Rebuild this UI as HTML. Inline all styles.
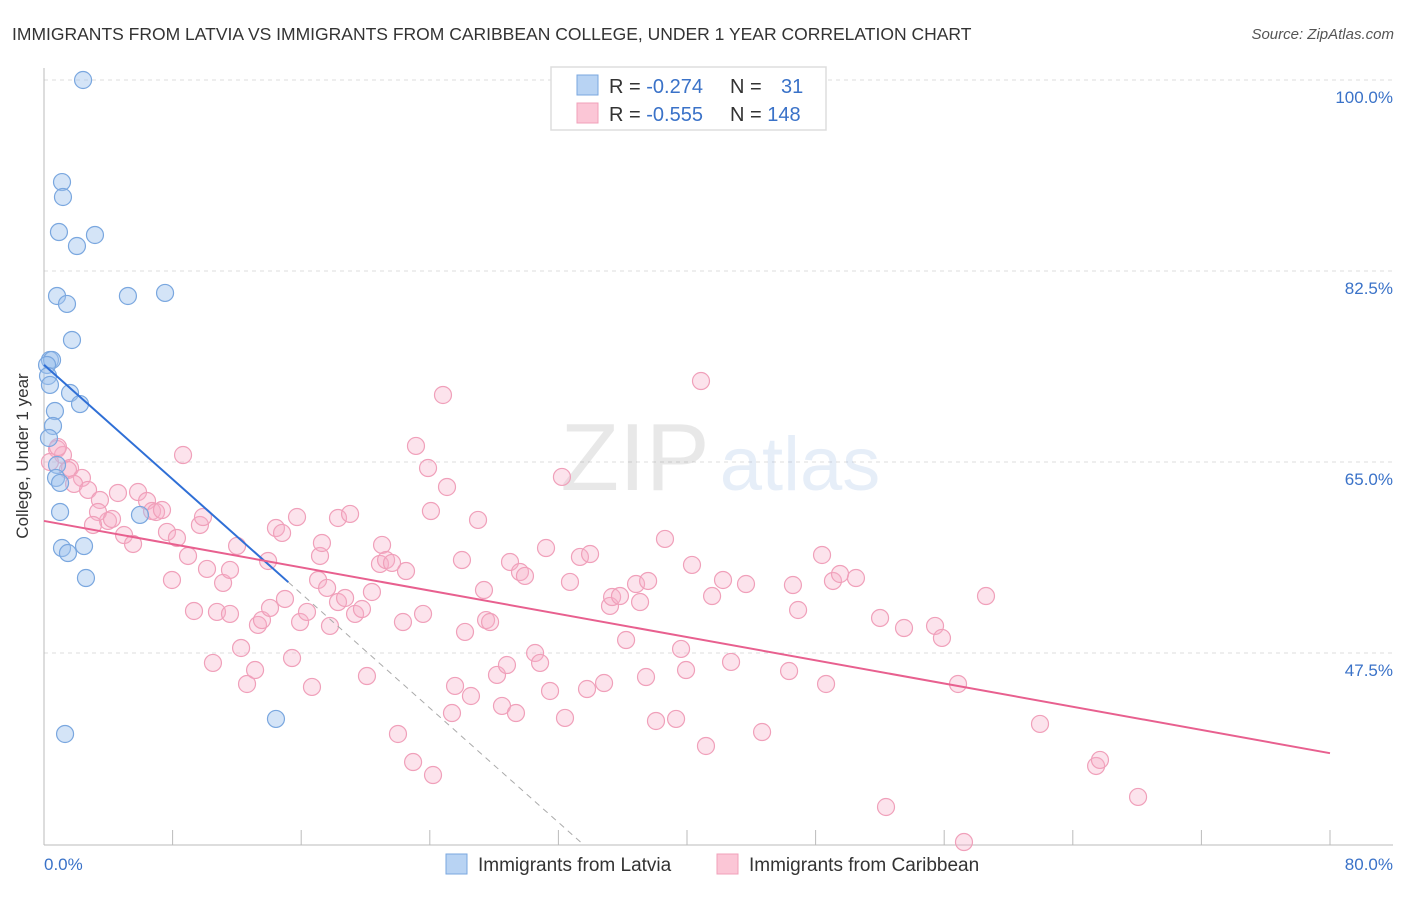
<!DOCTYPE html>
<html><head><meta charset="utf-8"><style>
body{margin:0;background:#fff;font-family:"Liberation Sans",sans-serif;}
svg text{font-family:"Liberation Sans",sans-serif;}
</style></head><body>
<svg id="chart" width="1406" height="892" xmlns="http://www.w3.org/2000/svg">
<text x="12" y="40" font-size="17.5" fill="#333">IMMIGRANTS FROM LATVIA VS IMMIGRANTS FROM CARIBBEAN COLLEGE, UNDER 1 YEAR CORRELATION CHART</text>
<text x="1394" y="39" font-size="15" fill="#555" font-style="italic" text-anchor="end">Source: ZipAtlas.com</text>
<g id="grid"></g>
<g opacity="0.13">
<text x="635" y="490" font-size="96" font-family="Liberation Serif" fill="#555" text-anchor="middle">ZIP</text>
<text x="800" y="490" font-size="76" fill="#4a7fd0" text-anchor="middle">atlas</text>
</g>
<g id="axes"></g>
<g id="pts"></g>
<g id="lines"></g>
<text x="28" y="456" font-size="17" fill="#333" text-anchor="middle" transform="rotate(-90 28 456)">College, Under 1 year</text>
<g>
<rect x="551" y="67" width="275" height="63" fill="#fff" stroke="#ddd" stroke-width="1.5"/>
<rect x="577" y="75" width="21" height="20" fill="#b8d3f3" stroke="#7aa7df"/>
<rect x="577" y="103" width="21" height="20" fill="#fbc6d6" stroke="#f0a0ba"/>
<text x="609" y="93" font-size="20" fill="#333">R = <tspan fill="#3a72c8">-0.274</tspan></text>
<text x="730" y="93" font-size="20" fill="#333">N = <tspan fill="#3a72c8" x="781">31</tspan></text>
<text x="609" y="121" font-size="20" fill="#333">R = <tspan fill="#3a72c8">-0.555</tspan></text>
<text x="730" y="121" font-size="20" fill="#333">N = <tspan fill="#3a72c8">148</tspan></text>
</g>
<g>
<rect x="446" y="854" width="21" height="20" fill="#b8d3f3" stroke="#7aa7df"/>
<text x="478" y="871" font-size="19" fill="#333">Immigrants from Latvia</text>
<rect x="717" y="854" width="21" height="20" fill="#fbc6d6" stroke="#f0a0ba"/>
<text x="749" y="871" font-size="19" fill="#333">Immigrants from Caribbean</text>
</g>
</svg>
<script>
const blueX=[2.43,1.12,1.18,0.93,3.17,2.05,0.81,1.43,5.22,7.53,1.74,0.37,0.50,0.19,0.25,0.37,1.62,2.24,0.68,0.56,0.31,0.81,0.75,1.00,1.00,1.12,1.49,2.49,2.61,14.43,1.31,5.97];
const blueY=[100,90.65,89.28,86.07,85.80,84.79,80.21,79.48,80.21,80.49,76.18,74.35,74.35,73.89,72.88,72.06,71.32,70.31,69.67,68.30,67.20,64.73,63.54,63.08,60.42,57.12,56.66,57.30,54.37,41.46,40.08,60.15];
const pinkX=[0.81,1.18,1.62,0.37,0.87,1.49,2.36,1.87,2.74,3.48,3.98,4.60,3.36,3.05,4.23,4.98,5.54,5.85,6.41,6.72,6.97,7.34,7.96,8.65,7.65,8.27,8.96,9.70,9.89,9.33,10.14,10.51,10.76,11.14,11.57,11.57,12.01,12.26,12.63,13.13,13.31,13.56,13.94,14.06,14.43,14.81,14.99,15.43,15.74,15.93,16.36,16.67,17.05,17.17,17.29,17.61,17.79,18.29,18.29,18.73,19.04,19.35,19.78,20.09,20.40,20.90,21.03,21.28,21.65,22.02,22.33,22.52,22.96,23.14,23.58,23.89,24.07,24.20,24.82,25.07,25.38,25.57,26.00,26.19,26.56,27.00,27.37,27.50,27.75,28.18,28.49,28.80,28.99,29.36,29.61,29.92,30.55,30.86,31.23,31.48,32.22,32.41,32.72,33.34,33.78,33.97,34.84,35.21,35.34,35.83,36.21,36.83,37.08,37.45,37.58,38.07,38.63,39.32,39.63,39.94,40.31,40.87,41.18,41.56,42.24,42.74,43.67,44.67,46.35,46.59,46.91,48.40,48.65,49.08,49.52,50.51,52.01,52.38,53.50,55.43,55.86,56.86,57.23,58.60,61.96,65.45,65.69,68.06];
const pinkY=[66.19,65.64,64.45,65.0,66.37,64.27,63.54,62.99,62.44,61.52,59.60,62.16,60.42,59.23,59.78,58.31,57.49,62.25,61.43,60.51,60.42,60.60,54.19,65.64,58.59,58.04,56.39,59.23,59.96,51.35,55.20,46.59,51.26,53.92,51.08,55.11,57.31,47.96,44.66,45.94,50.07,50.52,55.93,51.63,58.95,58.50,52.45,47.04,59.96,50.34,51.26,44.39,54.19,56.39,57.58,53.46,49.98,52.17,59.87,52.54,60.24,51.08,51.53,45.39,53.09,55.66,57.40,56.02,55.75,40.08,50.34,55.01,37.51,66.47,51.08,64.45,60.51,36.32,71.14,62.71,42.00,44.48,56.02,49.43,43.56,59.69,53.27,50.52,50.34,45.49,42.65,46.40,55.84,42.00,54.92,54.56,47.50,46.59,57.12,44.02,63.63,41.55,54.01,56.30,44.20,56.57,44.75,51.81,52.63,52.72,48.69,53.82,52.17,45.30,54.10,41.27,57.95,41.46,47.87,45.94,55.57,72.42,38.98,52.72,54.19,46.68,53.82,40.26,45.85,53.73,51.44,56.48,44.66,54.10,54.74,54.37,50.71,33.39,49.79,49.98,48.88,44.66,30.18,52.72,41.00,37.15,37.70,34.31];
const yTicks=[100,82.5,65,47.5];
const yTickLabels=["100.0%","82.5%","65.0%","47.5%"];
const xTicks=[0,8,16,24,32,40,48,56,64,72,80];
const blueFit=[73.9,-1.31];
const pinkFit=[59.6,-0.266];

const X0=44,X1=1330,Y0=80;
const sx=v=>X0+v/80*(X1-X0);
const sy=v=>Y0+(100-v)/17.5*191;
const NS="http://www.w3.org/2000/svg";
function mk(tag,attrs,parent){const e=document.createElementNS(NS,tag);for(const k in attrs)e.setAttribute(k,attrs[k]);document.getElementById(parent).appendChild(e);return e;}
yTicks.forEach((t,i)=>{
  const g=mk('line',{x1:X0,x2:1393,y1:sy(t),y2:sy(t),stroke:'#ddd','stroke-dasharray':'4,4'},'grid');
  
  
  const tx=mk('text',{x:1393,y:sy(t)+23,'font-size':17,fill:'#3a72c8','text-anchor':'end'},'axes');
  tx.textContent=yTickLabels[i];
  
  
});
const ya=mk('line',{x1:X0,x2:X0,y1:68,y2:845,stroke:'#bbb'},'axes');


const xa=mk('line',{x1:X0,x2:1393,y1:845,y2:845,stroke:'#bbb'},'axes');


xTicks.forEach(t=>{
  const l=mk('line',{x1:sx(t),x2:sx(t),y1:830,y2:845,stroke:'#bbb'},'axes');
  
  
});
const xl0=mk('text',{x:44,y:870,'font-size':17,fill:'#3a72c8'},'axes');
xl0.textContent='0.0%';


const xl1=mk('text',{x:1393,y:870,'font-size':17,fill:'#3a72c8','text-anchor':'end'},'axes');
xl1.textContent='80.0%';


pinkX.forEach((x,i)=>{
  const c=mk('circle',{cx:sx(x),cy:sy(pinkY[i]),r:8.5,fill:'rgba(247,176,200,0.35)',stroke:'#f0a0ba','stroke-width':1.2},'pts');
  
  
});
blueX.forEach((x,i)=>{
  const c=mk('circle',{cx:sx(x),cy:sy(blueY[i]),r:8.5,fill:'rgba(160,195,238,0.45)',stroke:'#7aa7df','stroke-width':1.2},'pts');
  
  
});
const bEnd=15.2, bDash=(29.9-blueFit[0])/blueFit[1];
const bl=mk('line',{x1:sx(0),y1:sy(blueFit[0]),x2:sx(bEnd),y2:sy(blueFit[0]+blueFit[1]*bEnd),stroke:'#2f6fd6','stroke-width':2},'lines');


const bd=mk('line',{x1:sx(bEnd),y1:sy(blueFit[0]+blueFit[1]*bEnd),x2:sx(bDash),y2:sy(blueFit[0]+blueFit[1]*bDash),stroke:'#aaa','stroke-width':1,'stroke-dasharray':'6,5'},'lines');


const pl=mk('line',{x1:sx(0),y1:sy(pinkFit[0]),x2:sx(80),y2:sy(pinkFit[0]+pinkFit[1]*80),stroke:'#e8608f','stroke-width':2},'lines');


</script>
</body></html>
